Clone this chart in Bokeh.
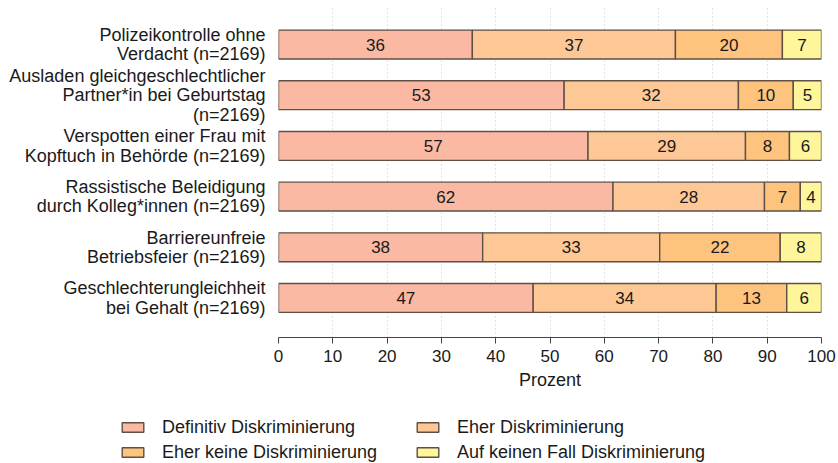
from bokeh.plotting import figure
from bokeh.models import ColumnDataSource, Range1d, FixedTicker, Legend, LegendItem
from bokeh.layouts import column
from bokeh.core.properties import value
from bokeh.embed import file_html
from bokeh.resources import INLINE

# ---- data ----
items = [
    "Polizeikontrolle ohne\nVerdacht (n=2169)",
    "Ausladen gleichgeschlechtlicher\nPartner*in bei Geburtstag\n(n=2169)",
    "Verspotten einer Frau mit\nKopftuch in Behörde (n=2169)",
    "Rassistische Beleidigung\ndurch Kolleg*innen (n=2169)",
    "Barriereunfreie\nBetriebsfeier (n=2169)",
    "Geschlechterungleichheit\nbei Gehalt (n=2169)",
]
categories = ["Definitiv Diskriminierung", "Eher Diskriminierung",
              "Eher keine Diskriminierung", "Auf keinen Fall Diskriminierung"]
definitiv = [35.7, 52.6, 57.0, 61.6, 37.6, 46.9]
eher = [37.4, 32.1, 29.0, 27.9, 32.6, 33.7]
eher_keine = [19.7, 10.1, 8.1, 6.6, 22.2, 13.0]
auf_keinen = [7.2, 5.2, 5.9, 3.9, 7.6, 6.4]
lab_definitiv = ["36", "53", "57", "62", "38", "47"]
lab_eher = ["37", "32", "29", "28", "33", "34"]
lab_eher_keine = ["20", "10", "8", "7", "22", "13"]
lab_auf_keinen = ["7", "5", "6", "4", "8", "6"]
x_ticks = [0, 10, 20, 30, 40, 50, 60, 70, 80, 90, 100]
colors = ["#FBB9A3", "#FDC896", "#FEC47E", "#FFF59B"]

series = [definitiv, eher, eher_keine, auf_keinen]
labels = [lab_definitiv, lab_eher, lab_eher_keine, lab_auf_keinen]

n = len(items)
ypos = [n - 1 - i for i in range(n)]

FONT = "Liberation Sans"
TXT = "#1a1a1a"
EDGE = "#5e5045"

p = figure(width=838, height=400, output_backend="svg", toolbar_location=None,
           x_range=Range1d(0, 100), y_range=Range1d(-0.78, 5.77),
           min_border_left=278, min_border_right=17, min_border_top=5,
           min_border_bottom=63)
p.frame_align = False
p.outline_line_color = None
p.ygrid.visible = False
p.xgrid.grid_line_color = "#c8c8c8"
p.xgrid.grid_line_dash = "1 3"
p.xgrid.grid_line_width = 1

sources = []
left = [0.0] * n
for k, (vals, labs) in enumerate(zip(series, labels)):
    right = [l + v for l, v in zip(left, vals)]
    mid = [(l + r) / 2 for l, r in zip(left, right)]
    src = ColumnDataSource(dict(y=ypos, left=list(left), right=right, mid=mid, lab=labs))
    sources.append(src)
    p.hbar(y="y", left="left", right="right", height=0.57, source=src,
           fill_color=colors[k], line_color=EDGE, line_width=1.4)
    p.text(x="mid", y="y", text="lab", source=src, text_align="center",
           text_baseline="middle", text_font=value(FONT), text_font_size="17px",
           text_color=TXT)
    left = right

# y axis carries the multi-line category labels
yax = p.yaxis[0]
yax.ticker = FixedTicker(ticks=ypos)
yax.major_label_overrides = {y: name for y, name in zip(ypos, items)}
yax.major_label_text_font = FONT
yax.major_label_text_font_size = "18px"
yax.major_label_text_color = TXT
yax.major_label_text_line_height = 0.97
yax.major_label_standoff = 7
yax.axis_line_color = None
yax.major_tick_line_color = None
yax.minor_tick_line_color = None

ax = p.xaxis[0]
ax.ticker = FixedTicker(ticks=x_ticks)
ax.axis_label = "Prozent"
ax.axis_label_text_font = FONT
ax.axis_label_text_font_size = "18px"
ax.axis_label_text_font_style = "normal"
ax.axis_label_text_color = TXT
ax.axis_label_standoff = 5
ax.major_label_text_font = FONT
ax.major_label_text_font_size = "17px"
ax.major_label_text_color = TXT
ax.major_label_standoff = 6
ax.axis_line_color = "#444444"
ax.axis_line_width = 1.2
ax.major_tick_line_color = "#444444"
ax.major_tick_in = 0
ax.major_tick_out = 6
ax.minor_tick_line_color = None

# legend panel below the chart (hidden copies of the series supply the swatches)
lf = figure(width=838, height=63, output_backend="svg", toolbar_location=None,
            x_range=Range1d(0, 100), y_range=Range1d(-0.78, 5.77),
            min_border_left=0, min_border_right=0, min_border_top=0,
            min_border_bottom=0, x_axis_location=None, y_axis_location=None)
lf.frame_align = False
lf.outline_line_color = None
lf.grid.visible = False
leg_r = []
for k in range(4):
    r = lf.hbar(y="y", left="left", right="right", height=0.57, source=sources[k],
                fill_color=colors[k], line_color=EDGE, line_width=1.4, visible=False)
    leg_r.append(r)
leg = Legend(items=[LegendItem(label=c, renderers=[r]) for c, r in zip(categories, leg_r)],
             orientation="horizontal", ncols=2, location=(119, 0),
             padding=0, margin=0, spacing=3, glyph_width=27, glyph_height=12,
             label_height=22, label_width=249, label_standoff=16,
             label_text_font=FONT, label_text_font_size="18px",
             label_text_color=TXT, border_line_alpha=0, background_fill_alpha=0,
             inactive_fill_alpha=0)
lf.add_layout(leg, "center")

layout = column(p, lf, spacing=0)
open("out.html", "w").write(file_html(layout, INLINE))
